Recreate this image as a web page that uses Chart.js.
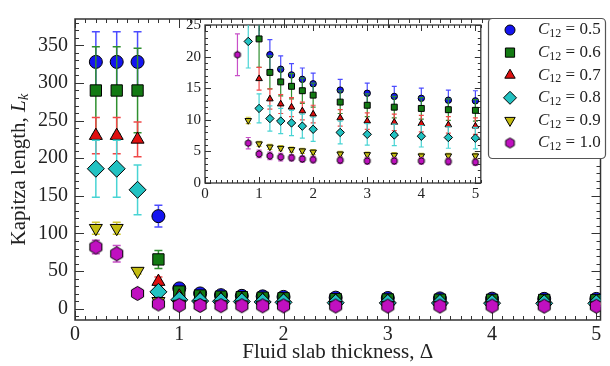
<!DOCTYPE html>
<html>
<head>
<meta charset="utf-8">
<script src="https://cdn.jsdelivr.net/npm/chart.js@4.4.0/dist/chart.umd.min.js"></script>
<style>
  html, body { margin: 0; padding: 0; background: #fff; }
  #wrap { position: relative; width: 610px; height: 366px; }
  #main { position: absolute; left: 0; top: 0; }
  #inset { position: absolute; left: 180px; top: 12px; }
</style>
</head>
<body>
<div id="wrap">
  <canvas id="main" width="610" height="366"></canvas>
  <canvas id="inset" width="306" height="196"></canvas>
</div>
<script>
// slab thickness values (same for every composition)
const thickness = [0.2, 0.4, 0.6, 0.8, 1.0, 1.2, 1.4, 1.6, 1.8, 2.0, 2.5, 3.0, 3.5, 4.0, 4.5, 5.0];

// C12 values of the six runs
const compositions = ['0.5', '0.6', '0.7', '0.8', '0.9', '1.0'];

// Kapitza length and its error, one pair of arrays per composition
const kapitza05 = [328, 328, 328, 123, 27, 20.3, 18.0, 17.1, 16.4, 15.7, 14.7, 14.2, 13.7, 13.4, 13.1, 13.0];
const error05   = [40, 40, 40, 14.5, 4, 2.4, 2.1, 1.8, 1.8, 1.7, 1.7, 1.6, 1.6, 1.6, 1.6, 1.6];
const kapitza06 = [290, 290, 290, 65.5, 22.8, 17.5, 16.0, 15.3, 14.6, 13.9, 12.8, 12.3, 12.0, 11.8, 11.6, 11.5];
const error06   = [58, 58, 56, 12, 4.5, 2.6, 2.2, 2.0, 2.0, 1.9, 1.8, 1.8, 1.7, 1.7, 1.7, 1.7];
const kapitza07 = [230, 230, 225, 36, 16.5, 13.3, 12.5, 12.0, 11.4, 10.9, 10.3, 9.8, 9.6, 9.4, 9.2, 9.0];
const error07   = [24, 24, 23, 6, 1.8, 1.6, 1.5, 1.5, 1.4, 1.4, 1.3, 1.3, 1.3, 1.3, 1.3, 1.3];
const kapitza08 = [186, 186, 158, 22.4, 11.8, 10.2, 9.8, 9.5, 9.0, 8.5, 8.0, 7.7, 7.6, 7.4, 7.2, 7.1];
const error08   = [38, 38, 33, 4.2, 2.3, 2.0, 2.0, 2.0, 1.9, 1.9, 1.8, 1.7, 1.7, 1.7, 1.7, 1.7];
const kapitza09 = [107, 107, 50, 9.9, 6.2, 5.7, 5.5, 5.3, 5.1, 4.9, 4.6, 4.5, 4.4, 4.3, 4.3, 4.3];
const error09   = [8, 8, 4, 0.5, 0.4, 0.4, 0.4, 0.4, 0.4, 0.4, 0.4, 0.4, 0.4, 0.4, 0.4, 0.4];
const kapitza10 = [82, 73, 20.3, 6.3, 4.6, 4.3, 4.1, 4.0, 3.8, 3.7, 3.6, 3.5, 3.5, 3.5, 3.4, 3.3];
const error10   = [9, 11, 3.3, 0.9, 0.6, 0.6, 0.6, 0.5, 0.5, 0.5, 0.5, 0.5, 0.5, 0.5, 0.5, 0.5];

const serif = '"Liberation Serif", "Times New Roman", serif';

// marker look per run: fill, error bar colour, shape, radius in main plot / inset / key
const looks = [
  { values: kapitza05, errors: error05, fill: '#1414f0', bar: '#4c4cff', shape: 'circle',  r: [6.5, 3.2, 5] },
  { values: kapitza06, errors: error06, fill: '#137a13', bar: '#2f8f2f', shape: 'rect',    r: [8, 4.2, 6.5] },
  { values: kapitza07, errors: error07, fill: '#e01010', bar: '#f04848', shape: 'triangle', r: [7.5, 3.8, 6] },
  { values: kapitza08, errors: error08, fill: '#22c2c2', bar: '#48d4d4', shape: 'rectRot', r: [8.5, 4.2, 6.5] },
  { values: kapitza09, errors: error09, fill: '#c4bc10', bar: '#cfc830', shape: 'down',    r: [7.5, 3.8, 6] },
  { values: kapitza10, errors: error10, fill: '#c010c0', bar: '#c850c8', shape: 'hexagon', r: [7, 3.4, 5] }
];

// Chart.js has no hexagon marker, so paint one on a small canvas
function hexagon(r, fill) {
  const c = document.createElement('canvas');
  const s = Math.ceil(2 * r + 3);
  c.width = s; c.height = s;
  const g = c.getContext('2d');
  g.beginPath();
  for (let k = 0; k < 6; k++) {
    const a = -Math.PI / 2 + k * Math.PI / 3;
    const px = s / 2 + r * Math.cos(a), py = s / 2 + r * Math.sin(a);
    if (k === 0) g.moveTo(px, py); else g.lineTo(px, py);
  }
  g.closePath();
  g.fillStyle = fill; g.fill();
  g.lineWidth = 1; g.strokeStyle = '#000'; g.stroke();
  return c;
}

function markerStyle(look, r) {
  if (look.shape === 'hexagon') return hexagon(r, look.fill);
  if (look.shape === 'down') return 'triangle';
  return look.shape;
}

function buildSets(size) {
  return looks.map((look, i) => ({
    label: 'C12 = ' + compositions[i],
    data: thickness.map((x, j) => ({ x: x, y: look.values[j] })),
    errors: look.errors,
    barColor: look.bar,
    keyStyle: markerStyle(look, look.r[2]),
    keyRadius: look.r[2],
    pointStyle: markerStyle(look, look.r[size]),
    pointRadius: look.r[size],
    pointHoverRadius: look.r[size],
    pointRotation: look.shape === 'down' ? 180 : 0,
    backgroundColor: look.fill,
    borderColor: '#000',
    pointBorderWidth: 1,
    showLine: false,
    order: looks.length - i
  }));
}

// labelled ticks at whole multiples of the step, whatever the axis limits are
const stepTicks = step => scale => {
  const t = [];
  for (let k = Math.ceil(scale.min / step - 1e-9); k * step <= scale.max + 1e-9; k++) t.push({ value: k * step });
  scale.ticks = t;
};

// vertical error bars, drawn under each run's markers
const errorBars = {
  id: 'errorBars',
  beforeDatasetDraw(chart, args, o) {
    const ds = chart.data.datasets[args.index];
    const a = chart.chartArea, y = chart.scales.y, ctx = chart.ctx;
    ctx.save();
    ctx.beginPath();
    ctx.rect(a.left, a.top, a.right - a.left, a.bottom - a.top);
    ctx.clip();
    ctx.strokeStyle = ds.barColor;
    ctx.lineWidth = o.width;
    args.meta.data.forEach((pt, j) => {
      const v = ds.data[j].y, e = ds.errors[j];
      const top = y.getPixelForValue(v + e), bot = y.getPixelForValue(v - e);
      ctx.beginPath();
      ctx.moveTo(pt.x, top); ctx.lineTo(pt.x, bot);
      ctx.moveTo(pt.x - o.cap, top); ctx.lineTo(pt.x + o.cap, top);
      ctx.moveTo(pt.x - o.cap, bot); ctx.lineTo(pt.x + o.cap, bot);
      ctx.stroke();
    });
    ctx.restore();
  }
};

// closed box with inward major/minor ticks on all four sides
const frame = {
  id: 'frame',
  beforeDatasetsDraw(chart, args, o) {
    const { ctx, chartArea: a, scales: { x, y } } = chart;
    ctx.save();
    ctx.strokeStyle = o.color;
    ctx.lineWidth = o.tickWidth;
    ctx.beginPath();
    const walk = (scale, step, major, fn) => {
      for (let k = Math.ceil(scale.min / step - 1e-9); k * step <= scale.max + 1e-9; k++) {
        const v = k * step;
        const isMajor = Math.abs(v / major - Math.round(v / major)) < 1e-6;
        fn(Math.round(scale.getPixelForValue(v)) + 0.5, isMajor ? o.major : o.minor);
      }
    };
    walk(x, o.xMinor, o.xMajor, (px, len) => {
      ctx.moveTo(px, a.bottom); ctx.lineTo(px, a.bottom - len);
      ctx.moveTo(px, a.top); ctx.lineTo(px, a.top + len);
    });
    walk(y, o.yMinor, o.yMajor, (py, len) => {
      ctx.moveTo(a.left, py); ctx.lineTo(a.left + len, py);
      ctx.moveTo(a.right, py); ctx.lineTo(a.right - len, py);
    });
    ctx.stroke();
    ctx.lineWidth = o.width;
    ctx.strokeRect(a.left, a.top, a.right - a.left, a.bottom - a.top);
    ctx.restore();
  }
};

// key box with italic C and subscript 12, plus the rotated y title
const keyBox = {
  id: 'keyBox',
  afterDraw(chart, args, o) {
    const ctx = chart.ctx;
    ctx.save();
    ctx.beginPath();
    ctx.roundRect(o.left + 0.5, o.top + 0.5, o.width, o.height, 4);
    ctx.fillStyle = '#fff';
    ctx.fill();
    ctx.strokeStyle = '#555';
    ctx.lineWidth = 1.2;
    ctx.stroke();
    ctx.textBaseline = 'middle';
    chart.data.datasets.forEach((ds, i) => {
      const cy = o.top + o.first + i * o.row;
      ctx.fillStyle = ds.backgroundColor;
      ctx.strokeStyle = '#000';
      ctx.lineWidth = 1;
      Chart.helpers.drawPoint(ctx, {
        pointStyle: ds.keyStyle, radius: ds.keyRadius,
        rotation: ds.pointRotation, borderWidth: 1
      }, o.left + o.mark, cy);
      let tx = o.left + o.text;
      ctx.fillStyle = '#222';
      ctx.font = 'italic 17px ' + serif;
      ctx.fillText('C', tx, cy);
      tx += ctx.measureText('C').width;
      ctx.font = '12px ' + serif;
      ctx.fillText('12', tx, cy + 4);
      tx += ctx.measureText('12').width;
      ctx.font = '17px ' + serif;
      ctx.fillText(' = ' + compositions[i], tx, cy);
    });

    // y axis title: "Kapitza length, L_k"
    const head = 'Kapitza length, ';
    ctx.font = '21px ' + serif;
    const w1 = ctx.measureText(head).width;
    ctx.font = 'italic 21px ' + serif;
    const w2 = ctx.measureText('L').width;
    ctx.font = 'italic 15px ' + serif;
    const w3 = ctx.measureText('k').width;
    const a = chart.chartArea;
    ctx.translate(o.titleX, (a.top + a.bottom) / 2);
    ctx.rotate(-Math.PI / 2);
    let tx = -(w1 + w2 + w3) / 2;
    ctx.fillStyle = '#222';
    ctx.font = '21px ' + serif;
    ctx.fillText(head, tx, 0);
    tx += w1;
    ctx.font = 'italic 21px ' + serif;
    ctx.fillText('L', tx, 0);
    tx += w2;
    ctx.font = 'italic 15px ' + serif;
    ctx.fillText('k', tx, 5);
    ctx.restore();
  }
};

const tickFont = size => ({ family: serif, size: size });

new Chart(document.getElementById('main'), {
  type: 'scatter',
  data: { datasets: buildSets(0) },
  plugins: [frame, errorBars, keyBox],
  options: {
    responsive: false,
    animation: false,
    events: [],
    layout: { padding: { top: 13, right: 3, left: 0, bottom: 0 } },
    plugins: {
      legend: { display: false },
      tooltip: { enabled: false },
      errorBars: { width: 1.5, cap: 4 },
      frame: { color: '#333', width: 1.5, tickWidth: 1, major: 9, minor: 4,
               xMajor: 1, xMinor: 0.1, yMajor: 50, yMinor: 10 },
      keyBox: { left: 488, top: 18, width: 117, height: 140, first: 12, row: 22.6,
                mark: 22, text: 50, titleX: 19 }
    },
    scales: {
      x: {
        type: 'linear', min: 0, max: 5.04,
        grid: { display: false, drawTicks: false },
        border: { display: false },
        ticks: { padding: 3, color: '#222', font: tickFont(20), maxRotation: 0 },
        afterBuildTicks: stepTicks(1),
        title: { display: true, text: 'Fluid slab thickness, Δ', color: '#222', font: tickFont(21), padding: { top: 0, bottom: 1 } },
        afterFit: s => { s.height = 46; }
      },
      y: {
        type: 'linear', min: -15, max: 385,
        grid: { display: false, drawTicks: false },
        border: { display: false },
        ticks: { padding: 7, color: '#222', font: tickFont(20) },
        afterBuildTicks: stepTicks(50),
        afterFit: s => { s.width = 75; }
      }
    }
  }
});

new Chart(document.getElementById('inset'), {
  type: 'scatter',
  data: { datasets: buildSets(1) },
  plugins: [frame, errorBars],
  options: {
    responsive: false,
    animation: false,
    events: [],
    layout: { padding: { top: 11, right: 3, left: 0, bottom: 0 } },
    plugins: {
      legend: { display: false },
      tooltip: { enabled: false },
      errorBars: { width: 1.2, cap: 2.5 },
      frame: { color: '#333', width: 1.3, tickWidth: 1, major: 6, minor: 3,
               xMajor: 1, xMinor: 0.1, yMajor: 5, yMinor: 1 }
    },
    scales: {
      x: {
        type: 'linear', min: 0, max: 5.1,
        grid: { display: false, drawTicks: false },
        border: { display: false },
        ticks: { padding: 2, color: '#222', font: tickFont(15), maxRotation: 0 },
        afterBuildTicks: stepTicks(1),
        afterFit: s => { s.height = 25; }
      },
      y: {
        type: 'linear', min: 0, max: 25,
        grid: { display: false, drawTicks: false },
        border: { display: false },
        ticks: { padding: 4, color: '#222', font: tickFont(15) },
        afterBuildTicks: stepTicks(5),
        afterFit: s => { s.width = 25; }
      }
    }
  }
});
</script>
</body>
</html>
